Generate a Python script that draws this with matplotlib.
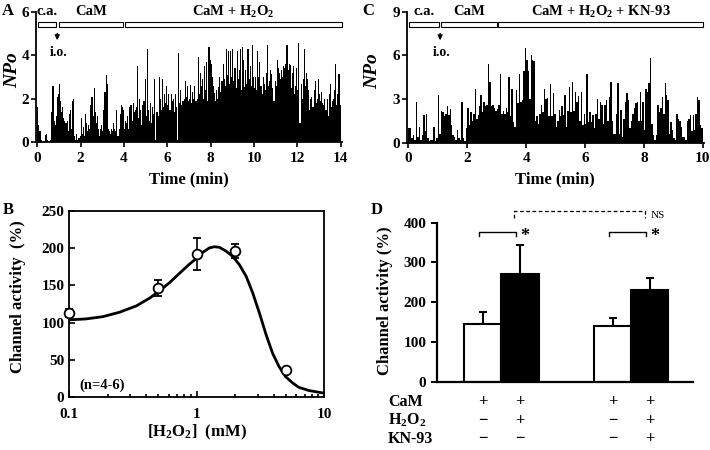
import numpy as np
import matplotlib
matplotlib.use("Agg")
import matplotlib.pyplot as plt
from matplotlib.patches import Rectangle
from matplotlib.transforms import blended_transform_factory

plt.rcParams["font.family"] = ["Liberation Serif", "DejaVu Serif"]
plt.rcParams["font.weight"] = "bold"
plt.rcParams["axes.labelweight"] = "bold"
plt.rcParams["mathtext.fontset"] = "custom"
plt.rcParams["mathtext.rm"] = "Liberation Serif:bold"
plt.rcParams["mathtext.it"] = "Liberation Serif:italic:bold"
plt.rcParams["mathtext.bf"] = "Liberation Serif:bold"
plt.rcParams["axes.linewidth"] = 1.3

# ── Panel A: NPo trace, 0.05 min bins, 0-14 min ─────────────
A_bin = 0.05
A_npo = [
    1.6, 0.8, 0.5, 0.1, 0.0, 0.0, 0.05, 0.35, 0.4, 0.1, 0.0, 0.0, 0.1, 1.4, 2.6, 1.0, 0.8, 1.2, 2.1, 2.2,
    2.7, 1.9, 1.4, 1.6, 1.1, 1.0, 0.9, 1.0, 0.5, 1.3, 1.5, 0.6, 1.9, 2.0, 0.3, 0.1, 0.4, 0.1, 0.2, 0.3,
    1.1, 0.4, 0.7, 0.3, 1.3, 0.9, 0.5, 0.8, 0.6, 1.7, 2.1, 1.2, 2.5, 1.4, 0.9, 1.2, 0.6, 0.3, 0.6, 0.8,
    0.5, 1.5, 2.3, 3.1, 2.7, 0.6, 0.5, 0.4, 0.6, 0.5, 0.9, 0.6, 0.5, 1.5, 0.3, 0.6, 1.3, 1.7, 1.6, 1.5,
    0.6, 1.0, 0.9, 1.2, 0.6, 1.6, 1.7, 1.0, 1.8, 1.4, 1.5, 1.6, 3.5, 1.1, 2.0, 1.5, 0.8, 1.7, 1.9, 2.9,
    1.2, 4.3, 1.5, 1.0, 1.8, 0.9, 1.6, 1.3, 2.9, 0.1, 1.4, 1.2, 3.0, 2.0, 1.5, 2.9, 1.6, 2.2, 1.8, 2.6,
    1.7, 2.2, 1.5, 2.2, 1.9, 2.0, 1.4, 2.2, 1.6, 0.1, 4.1, 1.8, 2.4, 1.7, 1.9, 2.0, 2.8, 2.1, 2.6, 1.9,
    2.0, 2.65, 1.8, 2.3, 2.0, 2.6, 1.9, 2.0, 3.9, 2.2, 3.2, 2.6, 2.9, 2.0, 3.5, 2.4, 3.7, 1.9, 4.4, 3.8,
    3.6, 3.0, 2.6, 2.25, 1.9, 2.4, 2.0, 2.55, 3.0, 2.3, 2.8, 3.6, 2.9, 2.6, 4.3, 3.1, 4.2, 2.7, 4.2, 3.0,
    4.3, 2.8, 3.4, 2.5, 4.2, 2.9, 3.3, 4.3, 2.4, 4.4, 3.8, 2.55, 3.3, 2.7, 4.3, 2.9, 3.5, 2.6, 4.45, 3.0,
    2.5, 3.0, 2.4, 4.2, 3.0, 3.7, 2.6, 2.2, 3.0, 2.7, 2.4, 3.2, 4.45, 2.6, 2.8, 3.3, 3.15, 2.5, 1.9, 2.8,
    2.6, 3.8, 3.4, 3.2, 2.9, 3.3, 3.0, 3.5, 3.4, 3.6, 4.45, 3.3, 3.6, 3.55, 2.5, 3.2, 3.5, 2.2, 2.6, 3.4,
    2.4, 4.55, 0.9, 2.7, 2.0, 2.9, 4.3, 2.6, 3.2, 2.9, 2.4, 1.5, 2.0, 2.1, 1.6, 2.4, 2.8, 1.8, 2.0, 2.9,
    2.2, 1.9, 2.3, 1.8, 1.7, 2.0, 1.5, 2.0, 1.2, 2.2, 2.7, 1.6, 1.9, 2.0, 2.4, 3.6, 1.7, 2.2, 3.15, 1.7,
]
A_segments = [(0.05, 0.88, "c.a."), (0.98, 3.97, "CaM"), (4.03, 14.05, "CaM + H$_2$O$_2$")]
A_io = 0.92

# ── Panel C: NPo trace, 0.05 min bins, 0-10 min ─────────────
C_bin = 0.05
C_npo = [
    1.0, 1.0, 0.3, 0.5, 0.2, 2.8, 0.4, 1.1, 0.2, 0.5, 1.9, 0.8, 2.0, 0.3, 0.1, 0.2, 0.2, 1.1, 0.1, 0.3,
    3.3, 0.6, 2.2, 2.1, 1.8, 2.0, 2.5, 1.9, 2.3, 1.2, 0.5, 0.4, 0.2, 0.9, 0.3, 0.2, 2.8, 0.3, 0.1, 1.0,
    2.35, 1.2, 2.1, 1.5, 2.0, 3.7, 1.6, 1.9, 2.5, 3.3, 2.1, 2.8, 2.5, 2.6, 5.4, 4.2, 2.5, 2.6, 2.4, 2.2,
    2.3, 2.6, 4.7, 2.0, 2.2, 2.0, 2.35, 2.1, 4.5, 1.8, 3.7, 1.4, 1.1, 3.6, 2.7, 4.7, 2.8, 2.9, 4.9, 6.5,
    5.7, 4.9, 3.0, 6.0, 5.7, 5.6, 1.5, 1.8, 1.3, 2.0, 2.6, 2.1, 3.7, 3.0, 3.1, 1.8, 4.0, 1.8, 3.4, 2.0,
    1.1, 1.5, 2.25, 1.8, 2.5, 1.9, 3.3, 1.1, 2.2, 3.85, 2.1, 4.2, 2.2, 3.5, 2.8, 3.2, 1.5, 3.5, 1.2, 2.0,
    1.3, 4.75, 1.4, 2.1, 1.4, 1.9, 1.0, 2.0, 3.0, 1.6, 2.8, 2.6, 1.3, 2.6, 2.9, 1.5, 3.15, 4.2, 1.5, 0.6,
    0.6, 2.0, 4.1, 0.6, 2.25, 0.4, 1.6, 2.8, 3.4, 2.9, 1.0, 1.5, 2.0, 2.35, 2.7, 2.8, 1.5, 3.5, 1.5, 2.8,
    0.9, 3.7, 3.5, 4.1, 5.8, 1.3, 0.5, 0.2, 0.5, 2.6, 2.1, 2.4, 3.15, 2.0, 4.1, 3.3, 2.9, 0.6, 1.4, 0.9,
    0.3, 0.2, 2.0, 1.6, 1.5, 1.1, 0.4, 0.4, 0.2, 1.5, 1.6, 1.9, 0.8, 1.9, 0.9, 2.0, 3.15, 2.9, 1.2, 1.0,
]
C_segments = [(0.03, 1.05, "c.a."), (1.11, 3.0, "CaM"), (3.06, 10.02, "CaM + H$_2$O$_2$ + KN-93")]
C_io = 1.08

# ── Panel B: dose response ───────────────────────────────
B_conc = [0.1, 0.5, 1.0, 2.0, 5.0]
B_mean = [112.7, 146, 192, 196, 36]
B_sem = [5, 10.5, 22, 10, 3]
B_fit_x = [0.1, 0.135, 0.183, 0.248, 0.336, 0.428, 0.513, 0.615, 0.73, 0.87, 1.0, 1.11,
           1.25, 1.37, 1.5, 1.69, 1.91, 2.16, 2.44, 2.75, 3.1, 3.5, 3.93, 4.42, 4.97,
           5.6, 6.3, 7.6, 10.0]
B_fit_y = [103.8, 105, 108, 114, 122.5, 133, 143, 154, 166, 178, 186.5, 194,
           200, 201.7, 201, 196, 189, 177.5, 162, 139.5, 112.7, 83.6, 59, 41, 27.7,
           19.7, 13.4, 9, 5.5]

# ── Panel D: bar summary ─────────────────────────────────
D_mean = [145, 272, 140, 231]
D_sem = [31, 72, 21, 31]
D_fill = ["white", "black", "white", "black"]
D_rows = ["CaM", "H$_2$O$_2$", "KN-93"]
D_signs = [["+", "+", "+", "+"],
           ["\u2212", "+", "\u2212", "+"],
           ["\u2212", "\u2212", "\u2212", "+"]]

W, H = 710, 450
fig = plt.figure(figsize=(7.1, 4.5), dpi=100)


def px_rect(left, right, top, bottom):
    return [left / W, 1 - bottom / H, (right - left) / W, (bottom - top) / H]


def trace_panel(ax, npo, binw, segs, io, ymax, yticks, xmax):
    t = np.arange(len(npo)) * binw
    ax.bar(t, npo, width=binw, align="edge", color="black", linewidth=0)
    ax.set_ylim(0, ymax)
    ax.set_yticks(yticks)
    ax.set_xticks(np.arange(0, xmax + 1, 2))
    for s in ["top", "right"]:
        ax.spines[s].set_visible(False)
    ax.tick_params(labelsize=11, length=3.5, width=1.2)
    ax.tick_params(axis="y", pad=1.5)
    lo, hi = ymax * 0.88, ymax * 0.923
    for x0, x1, lab in segs:
        ax.add_patch(Rectangle((x0, lo), x1 - x0, hi - lo, fill=False,
                               lw=0.8, ec="black", clip_on=False))
        ax.text((x0 + x1) / 2, ymax * 1.0, lab, ha="center", va="center",
                fontsize=10.5)
    ax.annotate("", xy=(io, ymax * 0.76), xytext=(io, ymax * 0.855),
                arrowprops=dict(arrowstyle="-|>", color="black", lw=1.0,
                                mutation_scale=7))
    ax.text(io + 0.05 * xmax / 14, ymax * 0.69, "i.o.", ha="center",
            va="center", fontsize=10)
    ax.set_xlabel("Time (min)", fontsize=12)
    ax.set_ylabel("NPo", fontsize=14, fontstyle="italic")


# A
axA = fig.add_axes(px_rect(36, 341.7, 11.7, 142.3))
trace_panel(axA, A_npo, A_bin, A_segments, A_io, 6, [0, 2, 4, 6], 14)
axA.set_xlim(-0.06, 14.05)
axA.yaxis.set_label_coords(-0.05, 0.55)
axA.xaxis.set_label_coords(0.5, -0.22)

# C
axC = fig.add_axes(px_rect(406.7, 704, 11.7, 142.7))
trace_panel(axC, C_npo, C_bin, C_segments, C_io, 9, [0, 3, 6, 9], 10)
axC.set_xlim(-0.055, 10.04)
axC.yaxis.set_label_coords(-0.085, 0.55)
axC.xaxis.set_label_coords(0.5, -0.22)

# B
axB = fig.add_axes(px_rect(69.3, 324.3, 210.7, 397.3))
axB.plot(B_fit_x, B_fit_y, color="black", lw=2.0, zorder=2)
axB.errorbar(B_conc, B_mean, yerr=B_sem, fmt="o", mfc="white", mec="black",
             mew=1.3, ms=7, ecolor="black", elinewidth=1.2, capsize=3,
             capthick=1.2, zorder=3, clip_on=False)
axB.set_xscale("log")
axB.set_xlim(0.1, 10)
axB.set_ylim(0, 250)
axB.set_yticks(np.arange(0, 251, 50))
axB.set_xticks([0.1, 1, 10])
axB.set_xticklabels(["0.1", "1", "10"])
axB.tick_params(which="both", direction="in", labelsize=11, width=1.2)
axB.tick_params(which="major", length=4)
axB.tick_params(which="minor", length=2.5)
axB.tick_params(axis="x", which="both", pad=7.5)
axB.set_ylabel("Channel activity  (%)", fontsize=12)
axB.set_xlabel("[H$_2$O$_2$]  (mM)", fontsize=12)
axB.yaxis.set_label_coords(-0.17, 0.54)
axB.xaxis.set_label_coords(0.5, -0.135)
axB.text(0.128, 0.066, "(n=4-6)", transform=axB.transAxes, ha="center",
         va="center", fontsize=10.5)

# D
axD = fig.add_axes(px_rect(436.7, 693.3, 222.7, 381.7))
pos = [0, 1, 3.5, 4.5]
axD.bar(pos, D_mean, width=1.0, color=D_fill, edgecolor="black", lw=1.5, zorder=2)
axD.errorbar(pos, D_mean, yerr=[np.zeros(4), D_sem], fmt="none", ecolor="black",
             elinewidth=1.5, capsize=3, capthick=1.5, zorder=1)
axD.set_xlim(-1.25, 5.68)
axD.set_ylim(0, 400)
axD.set_yticks(np.arange(0, 401, 100))
axD.set_xticks([])
for s in ["top", "right"]:
    axD.spines[s].set_visible(False)
axD.spines["left"].set_linewidth(1.6)
axD.spines["bottom"].set_linewidth(1.6)
axD.tick_params(labelsize=11, length=4, width=1.4)
axD.set_ylabel("Channel activity (%)", fontsize=12)
axD.yaxis.set_label_coords(-0.17, 0.51)

for p0 in (pos[0], pos[2]):
    axD.plot([p0 - 0.1, p0 - 0.1, p0 + 0.9, p0 + 0.9], [367, 377, 377, 367],
             color="black", lw=1.0, clip_on=False)
    axD.text(p0 + 1.14, 366, "*", ha="center", va="center", fontsize=13)
axD.plot([0.84, 0.84, 4.38, 4.38], [411, 429, 429, 411], color="black", lw=0.9,
         ls=(0, (3, 2)), clip_on=False)
axD.text(4.72, 417, "NS", ha="center", va="center", fontsize=8, fontweight="normal")

trD = blended_transform_factory(axD.transData, axD.transAxes)
row_y = [-0.13, -0.245, -0.36]
for lab, signs, yy in zip(D_rows, D_signs, row_y):
    axD.text(-2.57, yy, lab, transform=trD, ha="left", va="center", fontsize=11.5)
    for p, s in zip(pos, signs):
        axD.text(p, yy, s, transform=trD, ha="center", va="center", fontsize=12)

# panel letters
for lab, x, y in [("A", 8, 11), ("B", 8, 210), ("C", 368, 11), ("D", 377, 210)]:
    fig.text(x / W, 1 - y / H, lab, ha="center", va="center", fontsize=12)

fig.savefig("out.png", dpi=100)
